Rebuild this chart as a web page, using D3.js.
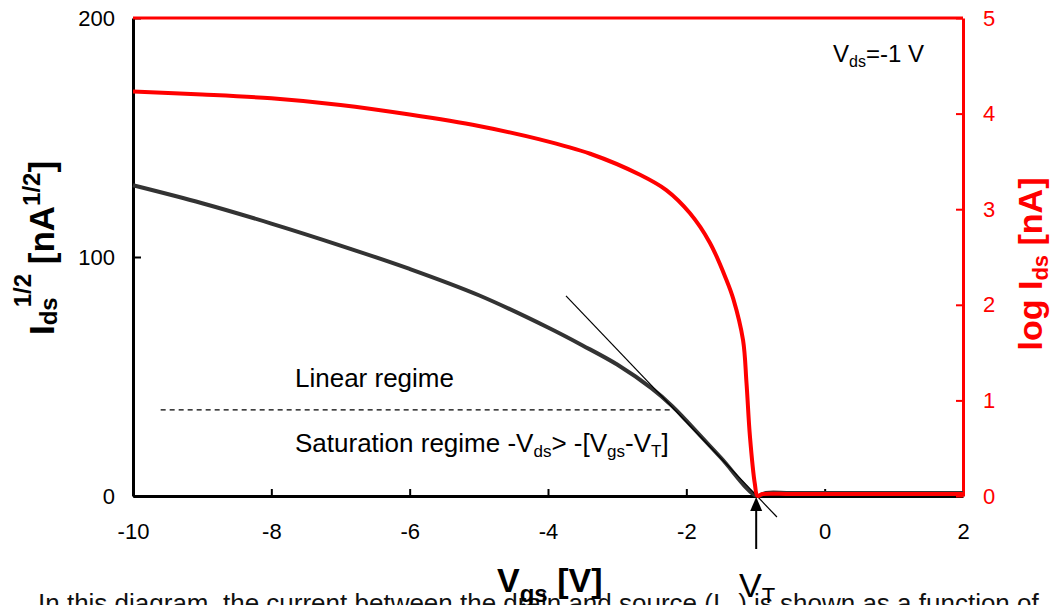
<!DOCTYPE html>
<html>

<head>
    <meta charset="utf-8">
    <script src="https://d3js.org/d3.v7.min.js"></script>
    <style>
        body {
            margin: 0;
            background: #fff;
        }

        text {
            font-family: "Liberation Sans", Arial, sans-serif;
        }
    </style>
</head>

<body>
    <svg id="svg" width="1061" height="605"></svg>

    <script>
        // **** Data ****
        // sqrt(Ids) curve, left axis
        const vgsSqrt = [-10, -9, -8, -7, -6, -5, -4, -3.5, -3, -2.5, -2.2, -2, -1.5, -0.98, -0.85, -0.5, 0, 0.5, 1, 1.5, 2]
        const sqrtIds = [130, 122.5, 114, 104.8, 95, 84, 70.5, 63, 55, 45, 37.5, 31.5, 16, 0, 1.3, 1.3, 1.3, 1.3, 1.3, 1.3, 1.3]

        // log(Ids) curve, right axis
        const vgsLog = [-10, -9, -8, -7, -6, -5, -4.12, -3.39, -2.67, -2.29, -1.95, -1.66, -1.42, -1.32,
            -1.18, -1.13, -1.08, -1.01, -0.97, -0.9, -0.5, 0, 0.5, 1, 1.5, 2]
        const logIds = [4.23, 4.20, 4.16, 4.09, 3.99, 3.87, 3.73, 3.58, 3.36, 3.2, 2.96, 2.65, 2.26, 2.06,
            1.63, 1.18, 0.62, 0.13, 0.0, 0.02, 0.02, 0.02, 0.02, 0.02, 0.02, 0.02]

        // tangent line and linear/saturation divider
        const tangentX = [-3.74, -0.69]
        const tangentY = [83.7, -8.8]
        const dividerX = [-9.6, -2.2]
        const dividerY = 36
        const vT = -0.99

        // ticks
        const xTicks = [-10, -8, -6, -4, -2, 0, 2]
        const leftTicks = [0, 100, 200]
        const rightTicks = [0, 1, 2, 3, 4, 5]

        const svg = d3.select('#svg')

        const x = d3.scaleLinear().domain([-10, 2]).range([133, 963])
        const yL = d3.scaleLinear().domain([0, 200]).range([496, 18])
        const yR = d3.scaleLinear().domain([0, 5]).range([496, 18])

        // text with sub/superscripts
        function richText(sel, parts, attrs) {
            const t = sel.append('text')
            Object.entries(attrs).forEach(([k, v]) => t.attr(k, v))
            parts.forEach(p => {
                const ts = t.append('tspan').text(p.t)
                if (p.size) ts.attr('font-size', p.size)
                if (p.dy) ts.attr('dy', p.dy)
                if (p.dx) ts.attr('dx', p.dx)
            })
            return t
        }

        // caption from the page below (cut off by the frame)
        richText(svg, [
            { t: 'In this diagram, the current between the drain and source (I' },
            { t: 'ds', size: 17, dy: 6 },
            { t: ') is shown as a function of', dy: -6 }
        ], { x: 38, y: 612, 'font-size': 26, 'font-family': '"Liberation Serif", "DejaVu Serif", serif', fill: '#111' })

        // **** Axes ****
        const gx = svg.append('g').attr('transform', 'translate(0,496)')
            .call(d3.axisBottom(x).tickValues(xTicks).tickSize(-7).tickSizeOuter(0).tickPadding(27)
                .tickFormat(d => String(d)))
        gx.select('.domain').attr('stroke-width', 3)
        gx.selectAll('.tick line').attr('stroke-width', 2)
        gx.selectAll('.tick text').attr('font-size', 22).attr('font-family', '"Liberation Sans", Arial').attr('fill', '#000')

        const gl = svg.append('g').attr('transform', 'translate(133,0)')
            .call(d3.axisLeft(yL).tickValues(leftTicks).tickSize(-8).tickSizeOuter(0).tickPadding(18)
                .tickFormat(d => String(d)))
        gl.select('.domain').attr('stroke-width', 3)
        gl.selectAll('.tick line').attr('stroke-width', 2)
        gl.selectAll('.tick text').attr('font-size', 22).attr('font-family', '"Liberation Sans", Arial').attr('fill', '#000')

        const gr = svg.append('g').attr('transform', 'translate(963,0)')
            .call(d3.axisRight(yR).tickValues(rightTicks).tickSize(-7).tickSizeOuter(0).tickPadding(20)
                .tickFormat(d => String(d)))
        gr.select('.domain').attr('stroke', '#f00').attr('stroke-width', 3)
        gr.selectAll('.tick line').attr('stroke', '#f00').attr('stroke-width', 2)
        gr.selectAll('.tick text').attr('font-size', 22).attr('font-family', '"Liberation Sans", Arial').attr('fill', '#f00')

        // red top frame line
        svg.append('line')
            .attr('x1', x(-10)).attr('x2', x(2))
            .attr('y1', yR(5)).attr('y2', yR(5))
            .attr('stroke', '#f00').attr('stroke-width', 3)

        // **** Curves ****
        const sqrtLine = d3.line()
            .x(d => x(d[0])).y(d => yL(d[1]))
            .curve(d3.curveCatmullRom.alpha(0.5))
        svg.append('path')
            .datum(d3.zip(vgsSqrt, sqrtIds))
            .attr('d', sqrtLine)
            .attr('fill', 'none').attr('stroke', '#333').attr('stroke-width', 4)

        // tangent
        svg.append('line')
            .attr('x1', x(tangentX[0])).attr('y1', yL(tangentY[0]))
            .attr('x2', x(tangentX[1])).attr('y2', yL(tangentY[1]))
            .attr('stroke', '#000').attr('stroke-width', 1.2)

        // divider between regimes
        svg.append('line')
            .attr('x1', x(dividerX[0])).attr('x2', x(dividerX[1]))
            .attr('y1', yL(dividerY)).attr('y2', yL(dividerY))
            .attr('stroke', '#000').attr('stroke-width', 1.2).attr('stroke-dasharray', '5,4')

        const logLine = d3.line()
            .x(d => x(d[0])).y(d => yR(d[1]))
            .curve(d3.curveCatmullRom.alpha(0.5))
        svg.append('path')
            .datum(d3.zip(vgsLog, logIds))
            .attr('d', logLine)
            .attr('fill', 'none').attr('stroke', '#f00').attr('stroke-width', 4)

        // V_T arrow
        svg.append('line')
            .attr('x1', x(vT)).attr('x2', x(vT))
            .attr('y1', 549).attr('y2', 508)
            .attr('stroke', '#000').attr('stroke-width', 2)
        svg.append('path')
            .attr('d', `M${x(vT)},497 L${x(vT) - 6},511 L${x(vT) + 6},511 Z`)
            .attr('fill', '#000')

        // **** Labels ****
        richText(svg, [{ t: 'Linear regime' }], { x: 295, y: 387, 'font-size': 26 })
        richText(svg, [
            { t: 'Saturation regime -V' },
            { t: 'ds', size: 17, dy: 5 },
            { t: '> -[V', dy: -5 },
            { t: 'gs', size: 17, dy: 5 },
            { t: '-V', dy: -5 },
            { t: 'T', size: 17, dy: 5 },
            { t: ']', dy: -5 }
        ], { x: 295, y: 452, 'font-size': 26 })

        richText(svg, [
            { t: 'V' },
            { t: 'ds', size: 16, dy: 5 },
            { t: '=-1 V', dy: -5 }
        ], { x: 833, y: 62, 'font-size': 24 })

        // axis titles
        richText(svg, [
            { t: 'I' },
            { t: 'ds', size: 24, dy: 3 },
            { t: '1/2', size: 24, dx: -10, dy: -26 },
            { t: ' [nA', dy: 23 },
            { t: '1/2', size: 24, dy: -14 },
            { t: ']', dy: 14 }
        ], { 'font-size': 35, 'font-weight': 'bold', 'text-anchor': 'middle', transform: 'translate(54,248) rotate(-90)' })

        richText(svg, [
            { t: 'log I' },
            { t: 'ds', size: 22, dy: 6 },
            { t: ' [nA]', dy: -6 }
        ], { 'font-size': 34, 'font-weight': 'bold', 'text-anchor': 'middle', fill: '#f00', transform: 'translate(1042,264) rotate(-90)' })

        richText(svg, [
            { t: 'V' },
            { t: 'gs', size: 24, dy: 10 },
            { t: ' [V]', dy: -10 }
        ], { x: 497, y: 592, 'font-size': 34, 'font-weight': 'bold' })

        richText(svg, [
            { t: 'V' },
            { t: 'T', size: 22, dy: 6 }
        ], { x: 739, y: 597, 'font-size': 34 })
    </script>

</body>

</html>
